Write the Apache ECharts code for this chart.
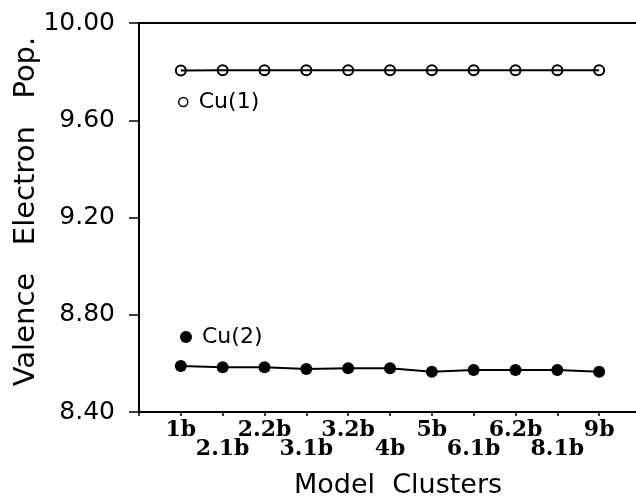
<!DOCTYPE html>
<html>
<head>
<meta charset="utf-8">
<script src="https://cdn.jsdelivr.net/npm/echarts@6/dist/echarts.min.js"></script>
<style>html,body{margin:0;padding:0;background:#fff}#c{width:636px;height:496px}</style>
</head>
<body>
<div id="c"></div>
<script>
const categories = ['1b','2.1b','2.2b','3.1b','3.2b','4b','5b','6.1b','6.2b','8.1b','9b'];
const cu1 = [9.805,9.806,9.806,9.806,9.806,9.806,9.806,9.806,9.806,9.806,9.806];
const cu2 = [8.589,8.584,8.584,8.577,8.580,8.580,8.566,8.573,8.573,8.573,8.566];
const yTicks = [8.40, 8.80, 9.20, 9.60, 10.00];
const seriesNames = ['Cu(1)', 'Cu(2)'];

const pos = categories.map((c, i) => i + 1);
const chart = echarts.init(document.getElementById('c'), null, {renderer: 'canvas'});
const serifBold = {fontFamily: 'DejaVu Serif', fontWeight: 'bold', fontSize: 22, color: '#000'};
chart.setOption({
  backgroundColor: '#fff',
  animation: false,
  grid: {left: 139, top: 23, bottom: 84, right: -5, containLabel: false, outerBoundsMode: 'none'},
  legend: [
    {data: [{name: seriesNames[0], icon: 'circle', itemStyle: {color: '#fff', borderColor: '#000', borderWidth: 1.5}}],
     left: 173, top: 86, itemWidth: 9, itemHeight: 9,
     textStyle: {fontFamily: 'DejaVu Sans', fontSize: 22, color: '#000', padding: [0, 0, 0, 6]}},
    {data: [{name: seriesNames[1], icon: 'circle', itemStyle: {color: '#000'}}],
     left: 175, top: 321, itemWidth: 12, itemHeight: 12,
     textStyle: {fontFamily: 'DejaVu Sans', fontSize: 22, color: '#000', padding: [0, 0, 0, 5]}}
  ],
  xAxis: [{
    type: 'value', min: 0, max: 12, interval: 1,
    name: 'Model  Clusters', nameLocation: 'middle', nameGap: 60,
    nameTextStyle: {fontFamily: 'DejaVu Sans', fontSize: 27, color: '#000', padding: [0, 0, 0, 16]},
    axisLine: {show: true, lineStyle: {color: '#000', width: 2}},
    axisTick: {show: true, length: 4, lineStyle: {color: '#000', width: 1.5}},
    splitLine: {show: false},
    axisLabel: {
      margin: 7,
      formatter: function (v) {
        const i = Math.round(v) - 1;
        if (i < 0 || i >= categories.length) return '';
        return (i % 2 === 0 ? '{u|' : '{d|') + categories[i] + '}';
      },
      rich: {u: serifBold, d: Object.assign({}, serifBold, {padding: [19, 0, 0, 0]})}
    }
  }, {
    type: 'value', min: 0, max: 12, position: 'top',
    axisLine: {show: true, lineStyle: {color: '#000', width: 2}},
    axisTick: {show: false}, axisLabel: {show: false}, splitLine: {show: false}
  }],
  yAxis: {
    type: 'value', min: yTicks[0], max: yTicks[yTicks.length - 1], interval: 0.4,
    name: 'Valence   Electron   Pop.', nameLocation: 'middle', nameGap: 98, nameMoveOverlap: false,
    nameTextStyle: {fontFamily: 'DejaVu Sans', fontSize: 29, color: '#000', padding: [0, 0, 0, 12]},
    axisLine: {show: true, lineStyle: {color: '#000', width: 2}},
    axisTick: {show: true, length: 10, lineStyle: {color: '#000', width: 1.5}},
    splitLine: {show: false},
    axisLabel: {margin: 24, fontFamily: 'DejaVu Sans', fontSize: 25, color: '#000',
      formatter: v => v.toFixed(2)}
  },
  series: [{
    name: seriesNames[0], type: 'line',
    data: pos.map((x, i) => [x, cu1[i]]),
    symbol: 'circle', symbolSize: 10,
    itemStyle: {color: 'rgba(0,0,0,0)', borderColor: '#000', borderWidth: 2},
    lineStyle: {color: '#000', width: 2}
  }, {
    name: seriesNames[1], type: 'line',
    data: pos.map((x, i) => [x, cu2[i]]),
    symbol: 'circle', symbolSize: 12,
    itemStyle: {color: '#000'},
    lineStyle: {color: '#000', width: 2}
  }]
});
</script>
</body>
</html>
